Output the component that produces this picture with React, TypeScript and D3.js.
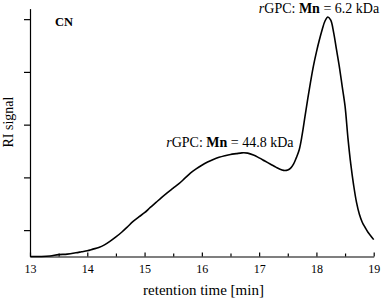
import React, { useEffect, useRef } from "react";
import * as d3 from "d3";

// retention time [min] and RI signal (arbitrary units)
const times = [
  13.0, 13.2, 13.35, 13.5, 13.65, 13.8, 13.9, 14.0, 14.1, 14.2, 14.3, 14.4, 14.5, 14.6, 14.7, 14.8,
  14.9, 15.0, 15.1, 15.2, 15.3, 15.4, 15.5, 15.6, 15.7, 15.8, 15.9, 16.0, 16.1, 16.2, 16.3, 16.4,
  16.5, 16.6, 16.7, 16.8, 16.9, 17.0, 17.1, 17.2, 17.3, 17.4, 17.45, 17.5, 17.55, 17.6, 17.65, 17.7,
  17.75, 17.8, 17.85, 17.9, 17.95, 18.0, 18.05, 18.1, 18.15, 18.2, 18.25, 18.3, 18.35, 18.4, 18.45,
  18.5, 18.55, 18.6, 18.65, 18.7, 18.75, 18.8, 18.85, 18.9, 18.95, 19.0,
];
const signal = [
  0.0, 0.0, 0.002, 0.007, 0.009, 0.014, 0.018, 0.022, 0.028, 0.034, 0.044, 0.058, 0.074, 0.092, 0.112, 0.133,
  0.15, 0.166, 0.186, 0.205, 0.224, 0.242, 0.259, 0.276, 0.296, 0.316, 0.332, 0.346, 0.358, 0.368, 0.376, 0.382,
  0.387, 0.39, 0.393, 0.392, 0.385, 0.374, 0.362, 0.35, 0.338, 0.328, 0.326, 0.328, 0.335, 0.35, 0.375, 0.405,
  0.46, 0.53, 0.6, 0.665, 0.725, 0.775, 0.82, 0.86, 0.893, 0.908, 0.896, 0.85, 0.785, 0.72,
  0.645, 0.57, 0.45, 0.35, 0.27, 0.205, 0.16, 0.13, 0.11, 0.092, 0.078, 0.064,
];
const xTicks = [13, 14, 15, 16, 17, 18, 19];
const xMinorTicks = [13.5, 14.5, 15.5, 16.5, 17.5, 18.5];
const yTicks = [0.1, 0.3, 0.5, 0.7, 0.9];

const labels = [
  { t: 16.49, v: 0.416, mn: "44.8" },
  { t: 18.045, v: 0.923, mn: "6.2" },
];

const W = 381, H = 302;
const FONT = "'Liberation Serif', 'Times New Roman', serif";

export default function App() {
  const ref = useRef<SVGSVGElement>(null);

  useEffect(() => {
    const svg = d3.select(ref.current);
    svg.selectAll("*").remove();

    const x = d3.scaleLinear().domain([13, 19]).range([30, 373.7]);
    const y = d3.scaleLinear().domain([0, 0.94]).range([256.5, 8.6]);

    // x axis, ticks pointing into the plot
    const gx = svg.append("g").attr("transform", `translate(0,${y(0)})`);
    gx.call(d3.axisBottom(x).tickValues(xTicks).tickSizeInner(-4).tickSizeOuter(0).tickPadding(8).tickFormat(d3.format("d")));
    svg.append("g").attr("transform", `translate(0,${y(0)})`)
      .call(d3.axisBottom(x).tickValues(xMinorTicks).tickSizeInner(-3).tickSizeOuter(0).tickFormat(() => ""))
      .select(".domain").remove();

    // y axis, no labels
    const gy = svg.append("g").attr("transform", `translate(${x(13)},0)`);
    gy.call(d3.axisLeft(y).tickValues(yTicks).tickSizeInner(6).tickSizeOuter(0).tickFormat(() => ""));

    svg.selectAll(".domain, .tick line").attr("stroke", "#000").attr("stroke-width", 1.2);
    svg.selectAll(".tick text").attr("font-family", FONT).attr("font-size", 12).attr("fill", "#000");

    const line = d3.line<number>()
      .x((_, i) => x(times[i]))
      .y((d) => y(d))
      .curve(d3.curveCatmullRom);

    svg.append("path")
      .datum(signal)
      .attr("d", line)
      .attr("fill", "none")
      .attr("stroke", "#000")
      .attr("stroke-width", 1.6);

    // axis titles
    svg.append("text")
      .attr("x", 203.5).attr("y", 295)
      .attr("text-anchor", "middle")
      .attr("font-family", FONT).attr("font-size", 15)
      .text("retention time [min]");

    svg.append("text")
      .attr("transform", `translate(13,122) rotate(-90)`)
      .attr("text-anchor", "middle")
      .attr("font-family", FONT).attr("font-size", 14)
      .text("RI signal");

    svg.append("text")
      .attr("x", 55).attr("y", 26)
      .attr("font-family", FONT).attr("font-size", 12.5).attr("font-weight", "bold")
      .text("CN");

    // peak annotations
    labels.forEach((l) => {
      const t = svg.append("text")
        .attr("x", x(l.t)).attr("y", y(l.v))
        .attr("text-anchor", "middle")
        .attr("font-family", FONT).attr("font-size", 14);
      t.append("tspan").attr("font-style", "italic").text("r");
      t.append("tspan").text("GPC: ");
      t.append("tspan").attr("font-weight", "bold").text("Mn");
      t.append("tspan").text(` = ${l.mn} kDa`);
    });
  }, []);

  return <svg ref={ref} width={W} height={H} style={{ display: "block", position: "absolute", left: 0, top: 0 }} />;
}
